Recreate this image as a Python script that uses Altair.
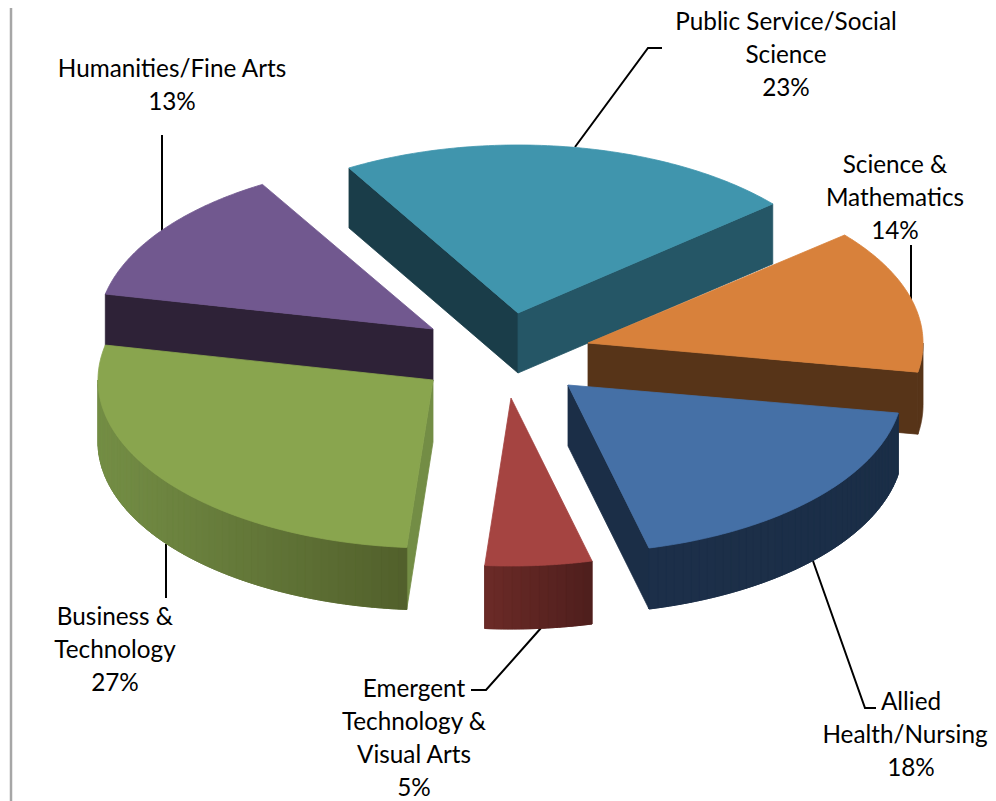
import altair as alt
import numpy as np
import pandas as pd

categories = ["Public Service/Social Science", "Science & Mathematics", "Allied Health/Nursing",
              "Emergent Technology & Visual Arts", "Business & Technology", "Humanities/Fine Arts"]
shares = [23, 14, 18, 5, 27, 13]
# where each wedge starts and ends on the tilted picture, clockwise from the top
angle_from = [-30.3, 50.0, 99.6, 166.0, 184.5, 282.0]
angle_to = [49.5, 100.0, 166.0, 184.5, 282.0, 329.4]
semi_x, semi_y = 335.0, 168.0
apex_x = [518, 588, 568, 511, 433, 433]
apex_y = [313, 343, 385, 398, 380, 329]
depths = [60, 62, 61, 63, 62, 52]
top_colors = ["#4095ad", "#d8813b", "#4570a6", "#a54441", "#89a54e", "#71588f"]
start_face = ["#1a3d49", "#573418", "#1b2e47", "#5d2422", "#738d45", "#2e2237"]
end_face = ["#255666", "#573418", "#1b2e47", "#5d2422", "#738d45", "#2e2237"]
wall_from = ["#255666", "#573418", "#1c2f49", "#6a2a27", "#748e45", "#2e2237"]
wall_to = ["#255666", "#573418", "#1b2e47", "#4d1e1c", "#515f2b", "#2e2237"]
draw_order = [5, 0, 1, 4, 2, 3]

label_lines = [
    ["Public Service/Social", "Science", f"{shares[0]}%"],
    ["Science &", "Mathematics", f"{shares[1]}%"],
    ["Allied", "Health/Nursing", f"{shares[2]}%"],
    ["Emergent", "Technology &", "Visual Arts", f"{shares[3]}%"],
    ["Business &", "Technology", f"{shares[4]}%"],
    ["Humanities/Fine Arts", f"{shares[5]}%"],
]
label_x = [786, 895, 911, 414, 115, 172]
label_y = [23, 166, 703, 690, 618, 70]
line_step = 33
line_nudge = {"Health/Nursing": -6}
leaders = [
    [(662, 48), (648, 48), (575, 147)],
    [(911, 245), (911, 300)],
    [(813, 561), (865, 708), (876, 708)],
    [(471, 690), (486, 690), (541, 628)],
    [(166, 544), (166, 598)],
    [(162, 135), (162, 231)],
]
frame_line = [(11, 0), (11, 801)]


def mix(c1, c2, t):
    a = [int(c1[i:i + 2], 16) for i in (1, 3, 5)]
    b = [int(c2[i:i + 2], 16) for i in (1, 3, 5)]
    return "#%02x%02x%02x" % tuple(round(p + (q - p) * t) for p, q in zip(a, b))


def rim(k, ang):
    r = np.radians(ang)
    return apex_x[k] + semi_x * np.sin(r), apex_y[k] - semi_y * np.cos(r)


rows = []
face_id = 0


def add_face(points, color):
    global face_id
    face_id += 1
    for i, (px, py) in enumerate(list(points) + [points[0]]):
        rows.append({"face": face_id, "i": i, "x": px, "y": py, "c": color})


for k in draw_order:
    a0, a1 = angle_from[k], angle_to[k]
    d = depths[k]
    ax, ay = apex_x[k], apex_y[k]
    if np.sin(np.radians(a0)) < 0:
        px, py = rim(k, a0)
        add_face([(ax, ay), (px, py), (px, py + d), (ax, ay + d)], start_face[k])
    if np.sin(np.radians(a1)) > 0:
        px, py = rim(k, a1)
        add_face([(ax, ay), (px, py), (px, py + d), (ax, ay + d)], end_face[k])
    lo, hi = max(a0, 90), min(a1, 270)
    if hi > lo:
        dense = [rim(k, t) for t in np.linspace(lo, hi, 80)]
        wall = dense + [(p, q + d) for p, q in reversed(dense)]
        add_face(wall, mix(wall_from[k], wall_to[k], 0.5))
        if wall_from[k] != wall_to[k]:
            x_lo, x_hi = rim(k, lo)[0], rim(k, hi)[0]
            n = max(int((hi - lo) / 1.5), 4)
            steps = np.linspace(lo, hi, n + 1)
            for s, e in zip(steps[:-1], steps[1:]):
                seg = [rim(k, t) for t in np.linspace(s, e, 6)]
                # left end of the wall carries wall_from, right end wall_to
                t = (min(seg[0][0], seg[-1][0]) - min(x_lo, x_hi)) / max(abs(x_hi - x_lo), 1)
                add_face(seg + [(p, q + d) for p, q in reversed(seg)],
                         mix(wall_from[k], wall_to[k], t))
    arc = [rim(k, t) for t in np.linspace(a0, a1, 80)]
    add_face([(ax, ay)] + arc, top_colors[k])

faces = pd.DataFrame(rows)

text_rows = []
for lines, lx, ly in zip(label_lines, label_x, label_y):
    for j, line in enumerate(lines):
        text_rows.append({"x": lx + line_nudge.get(line, 0), "y": ly + j * line_step, "t": line})
texts = pd.DataFrame(text_rows)

lead_rows = []
for g, pts in enumerate(leaders):
    for i, (px, py) in enumerate(pts):
        lead_rows.append({"g": g, "i": i, "x": px, "y": py})
leads = pd.DataFrame(lead_rows)
frame = pd.DataFrame([{"i": i, "x": p[0], "y": p[1]} for i, p in enumerate(frame_line)])

X = alt.X("x:Q", axis=None, scale=alt.Scale(domain=[8, 988], nice=False, zero=False))
Y = alt.Y("y:Q", axis=None, scale=alt.Scale(domain=[801, 8], nice=False, zero=False))

face_layer = alt.Chart(faces).mark_line(strokeWidth=0.8, clip=False).encode(
    x=X, y=Y, order="i:Q", detail="face:N",
    fill=alt.Fill("c:N", scale=None, legend=None),
    stroke=alt.Stroke("c:N", scale=None, legend=None),
)
lead_layer = alt.Chart(leads).mark_line(color="black", strokeWidth=2).encode(
    x=X, y=Y, order="i:Q", detail="g:N")
frame_layer = alt.Chart(frame).mark_line(color="#a6a6a6", strokeWidth=2.5).encode(
    x=X, y=Y, order="i:Q")
text_layer = alt.Chart(texts).mark_text(
    font="Lato", fontSize=24.3, color="black", align="center", baseline="middle"
).encode(x=X, y=Y, text="t:N")

chart = alt.layer(frame_layer, lead_layer, face_layer, text_layer).properties(
    width=980, height=793, padding=0, autosize=alt.AutoSizeParams(type="none"),
    background="white",
).configure_view(stroke=None)
chart.save("out.html", embed_options={"renderer": "svg", "actions": False})
